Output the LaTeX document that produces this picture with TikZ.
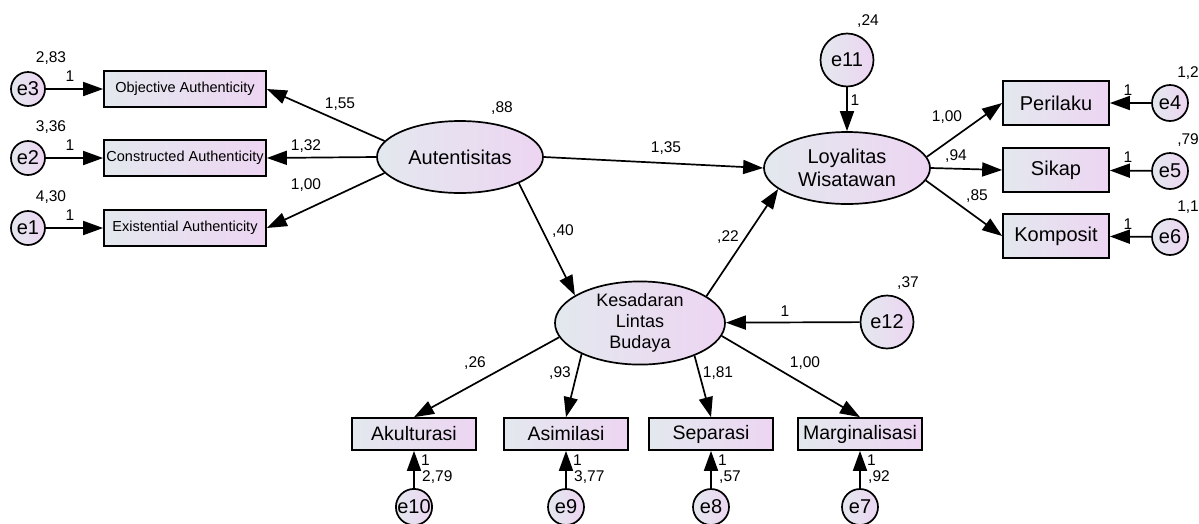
\documentclass[tikz,border=0pt]{standalone}
\usepackage{fontspec}
\setmainfont{Liberation Sans}
\usetikzlibrary{shapes.geometric,arrows.meta}
\definecolor{gl}{HTML}{E3E8EE}
\definecolor{gr}{HTML}{EDD5F2}
\tikzset{
  base/.style={draw, line width=1.7pt, left color=gl, right color=gr, inner sep=0pt},
  obs/.style={base, rectangle, minimum height=36pt, minimum width=162pt, font=\fontsize{14.5}{16}\selectfont},
  obsb/.style={base, rectangle, minimum height=44pt, minimum width=106pt, font=\fontsize{20}{22}\selectfont},
  obsc/.style={base, rectangle, minimum height=32pt, minimum width=124pt, font=\fontsize{19.5}{21}\selectfont},
  lat/.style={base, ellipse, align=center, font=\fontsize{20}{23}\selectfont},
  err/.style={base, circle, font=\fontsize{20}{22}\selectfont},
  pth/.style={line width=1.7pt, -{Triangle[length=20pt,width=14pt]}},
  lbl/.style={font=\fontsize{15.5}{17}\selectfont, inner sep=0pt},
}
\begin{document}
\begin{tikzpicture}[x=1pt,y=-1pt]
\useasboundingbox (0,0) rectangle (1199,523);
% left block
\node[err, minimum size=34pt] (e3) at (28,89) {e3};
\node[err, minimum size=34pt] (e2) at (28,158) {e2};
\node[err, minimum size=34pt] (e1) at (28,228) {e1};
\node[obs] (oa) at (185,89) {Objective Authenticity};
\node[obs] (ca) at (185,158) {Constructed Authenticity};
\node[obs] (ea) at (185,228) {Existential Authenticity};
\node[lat, minimum width=166pt, minimum height=72pt] (aut) at (460,157) {Autentisitas};
% right block
\node[lat, minimum width=166pt, minimum height=72pt] (loy) at (847,168) {Loyalitas\\Wisatawan};
\node[err, minimum size=53pt] (e11) at (847,60) {e11};
\node[obsb] (per) at (1056,103) {Perilaku};
\node[obsb] (sik) at (1056,170) {Sikap};
\node[obsb] (kom) at (1056,236) {Komposit};
\node[err, minimum size=36pt] (e4) at (1170,103) {e4};
\node[err, minimum size=36pt] (e5) at (1170,171) {e5};
\node[err, minimum size=36pt] (e6) at (1170,237) {e6};
% middle
\node[lat, minimum width=170pt, minimum height=73pt, font=\fontsize{18}{21}\selectfont] (kes) at (640,323) {Kesadaran\\Lintas\\Budaya};
\node[err, minimum size=53pt] (e12) at (887,322) {e12};
\node[obsc] (aku) at (414,434) {Akulturasi};
\node[obsc] (asi) at (566,434) {Asimilasi};
\node[obsc] (sep) at (711,434) {Separasi};
\node[obsc] (mar) at (860,434) {Marginalisasi};
\node[err, minimum size=36pt] (e10) at (414,507) {e10};
\node[err, minimum size=36pt] (e9) at (566,507) {e9};
\node[err, minimum size=36pt] (e8) at (711,507) {e8};
\node[err, minimum size=36pt] (e7) at (860,507) {e7};
% paths
\draw[pth] (e3) -- (oa);
\draw[pth] (e2) -- (ca);
\draw[pth] (e1) -- (ea);
\draw[pth] (aut.168) -- (oa.east);
\draw[pth] (aut.west) -- (ca.east);
\draw[pth] (aut.-168) -- (ea.east);
\draw[pth] (aut.east) -- (loy.west);
\draw[pth] (aut.-24) -- (kes.157);
\draw[pth] (kes.22) -- (loy.197);
\draw[pth] (e11) -- (loy);
\draw[pth] (e12) -- (kes);
\draw[pth] (loy.8) -- (per.west);
\draw[pth] (loy.east) -- (sik.west);
\draw[pth] (loy.-9) -- (kom.west);
\draw[pth] (e4) -- (per);
\draw[pth] (e5) -- (sik);
\draw[pth] (e6) -- (kom);
\draw[pth] (kes.-170) -- (aku.north);
\draw[pth] (kes.-152) -- (asi.north);
\draw[pth] (kes.-31) -- (sep.north);
\draw[pth] (kes.-9) -- (mar.north);
\draw[pth] (e10) -- (aku);
\draw[pth] (e9) -- (asi);
\draw[pth] (e8) -- (sep);
\draw[pth] (e7) -- (mar);
% labels
\node[lbl] (l1) at (51,58) {2,83};
\node[lbl] (l2) at (70,76) {1};
\node[lbl] (l3) at (51,127) {3,36};
\node[lbl] (l4) at (70,145) {1};
\node[lbl] (l5) at (51,197) {4,30};
\node[lbl] (l6) at (70,215) {1};
\node[lbl] (l7) at (340,104) {1,55};
\node[lbl] (l8) at (306,146) {1,32};
\node[lbl] (l9) at (306,185) {1,00};
\node[lbl] (l10) at (502,108) {,88};
\node[lbl] (l11) at (666,148) {1,35};
\node[lbl] (l12) at (868,21) {,24};
\node[lbl] (l13) at (855,100) {1};
\node[lbl] (l14) at (947,117) {1,00};
\node[lbl] (l15) at (956,156) {,94};
\node[lbl] (l16) at (977,196) {,85};
\node[lbl] (l17) at (1128,90) {1};
\node[lbl] (l18) at (1128,157) {1};
\node[lbl] (l19) at (1128,224) {1};
\node[lbl, anchor=east] (l20) at (1199,73) {1,2};
\node[lbl, anchor=east] (l21) at (1199,140) {,79};
\node[lbl, anchor=east] (l22) at (1199,207) {1,1};
\node[lbl] (l23) at (563,231) {,40};
\node[lbl] (l24) at (728,237) {,22};
\node[lbl] (l25) at (908,283) {,37};
\node[lbl] (l26) at (785,311) {1};
\node[lbl] (l27) at (475,363) {,26};
\node[lbl] (l28) at (560,373) {,93};
\node[lbl] (l29) at (718,373) {1,81};
\node[lbl] (l30) at (805,363) {1,00};
\foreach \x/\v/\n in {414/{2,79}/a, 566/{3,77}/b, 711/{,57}/c, 860/{,92}/d}{
  \node[lbl, anchor=west] (o\n) at (\x+7,460) {1};
  \node[lbl, anchor=west] (v\n) at (\x+8,477) {\v};
}
\end{tikzpicture}
\end{document}
